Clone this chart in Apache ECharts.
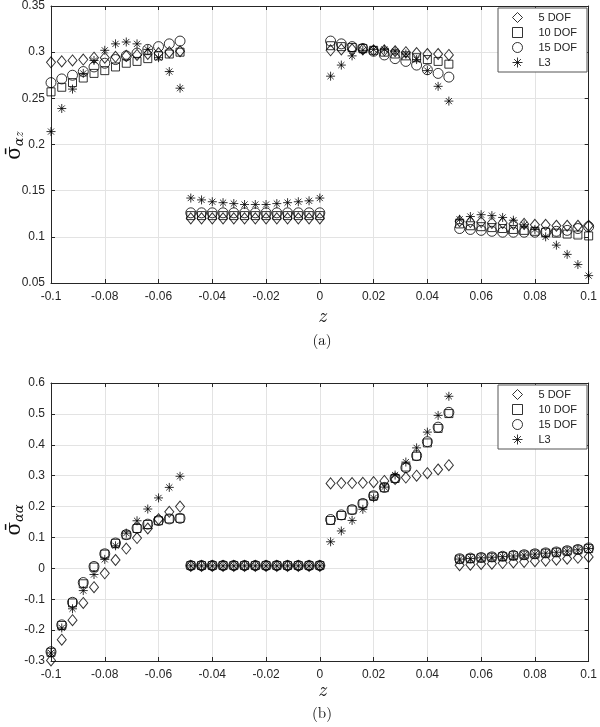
<!DOCTYPE html>
<html>
<head>
<meta charset="utf-8">
<script src="https://cdn.jsdelivr.net/npm/echarts@6/dist/echarts.min.js"></script>
<style>html,body{margin:0;padding:0;background:#fff;}#c{width:600px;height:727px;}</style>
</head>
<body>
<div id="c"></div>
<script>
// z positions
const zPos = [
  -0.100,-0.096,-0.092,-0.088,-0.084,-0.080,-0.076,-0.072,-0.068,-0.064,-0.060,-0.056,-0.052,
  -0.048,-0.044,-0.040,-0.036,-0.032,-0.028,-0.024,-0.020,-0.016,-0.012,-0.008,-0.004,0.000,
  0.004,0.008,0.012,0.016,0.020,0.024,0.028,0.032,0.036,0.040,0.044,0.048,
  0.052,0.056,0.060,0.064,0.068,0.072,0.076,0.080,0.084,0.088,0.092,0.096,0.100
];
const seriesNames = ['5 DOF','10 DOF','15 DOF','L3'];

// (a) sigma_alpha_z
const a5 = [0.289,0.290,0.291,0.292,0.294,0.294,0.295,0.296,0.297,0.298,0.299,0.300,0.301,
  0.120,0.120,0.120,0.120,0.120,0.120,0.120,0.120,0.120,0.120,0.120,0.120,0.120,
  0.302,0.303,0.303,0.303,0.302,0.302,0.301,0.300,0.299,0.298,0.298,0.297,
  0.117,0.116,0.116,0.115,0.115,0.114,0.114,0.113,0.113,0.112,0.112,0.112,0.112];
const a10 = [0.257,0.262,0.267,0.272,0.277,0.280,0.284,0.288,0.290,0.293,0.296,0.298,0.300,
  0.123,0.123,0.123,0.123,0.123,0.123,0.123,0.123,0.123,0.123,0.123,0.123,0.123,
  0.307,0.306,0.305,0.304,0.302,0.300,0.298,0.296,0.294,0.292,0.290,0.287,
  0.114,0.112,0.111,0.110,0.109,0.108,0.107,0.106,0.105,0.104,0.103,0.102,0.101];
const a15 = [0.267,0.271,0.275,0.279,0.284,0.288,0.292,0.296,0.299,0.303,0.306,0.309,0.312,
  0.126,0.126,0.126,0.126,0.126,0.126,0.126,0.126,0.126,0.126,0.126,0.126,0.126,
  0.312,0.309,0.306,0.304,0.301,0.297,0.293,0.290,0.286,0.281,0.277,0.273,
  0.109,0.108,0.107,0.106,0.105,0.105,0.105,0.105,0.105,0.106,0.107,0.109,0.111];
const aL3 = [0.214,0.239,0.260,0.277,0.291,0.302,0.309,0.311,0.309,0.303,0.294,0.279,0.261,
  0.142,0.140,0.138,0.137,0.136,0.135,0.135,0.135,0.136,0.137,0.138,0.139,0.142,
  0.274,0.286,0.296,0.302,0.303,0.303,0.301,0.298,0.292,0.280,0.263,0.247,
  0.119,0.122,0.124,0.123,0.121,0.118,0.113,0.108,0.100,0.091,0.081,0.070,0.058];

// (b) sigma_alpha_alpha
const b5 = [-0.298,-0.231,-0.168,-0.112,-0.061,-0.016,0.027,0.064,0.098,0.129,0.159,0.183,0.200,
  0.008,0.008,0.008,0.008,0.008,0.008,0.008,0.008,0.008,0.008,0.008,0.008,0.008,
  0.275,0.276,0.276,0.277,0.279,0.283,0.289,0.294,0.300,0.308,0.320,0.334,
  0.010,0.012,0.014,0.015,0.017,0.019,0.021,0.023,0.025,0.028,0.031,0.034,0.037];
const b10 = [-0.272,-0.185,-0.112,-0.050,0.004,0.046,0.081,0.108,0.129,0.142,0.154,0.160,0.162,
  0.009,0.009,0.009,0.009,0.009,0.009,0.009,0.009,0.009,0.009,0.009,0.009,0.009,
  0.155,0.171,0.189,0.209,0.234,0.261,0.291,0.328,0.363,0.406,0.453,0.501,
  0.030,0.032,0.034,0.036,0.038,0.041,0.043,0.046,0.049,0.052,0.056,0.060,0.064];
const b15 = [-0.270,-0.183,-0.110,-0.046,0.006,0.047,0.082,0.109,0.130,0.143,0.155,0.160,0.162,
  0.009,0.009,0.009,0.009,0.009,0.009,0.009,0.009,0.009,0.009,0.009,0.009,0.009,
  0.158,0.173,0.190,0.210,0.235,0.262,0.292,0.326,0.365,0.410,0.457,0.505,
  0.031,0.033,0.035,0.037,0.039,0.042,0.044,0.047,0.050,0.053,0.057,0.061,0.066];
const bL3 = [-0.274,-0.193,-0.131,-0.072,-0.020,0.029,0.073,0.114,0.154,0.192,0.228,0.262,0.298,
  0.008,0.008,0.008,0.008,0.008,0.008,0.008,0.008,0.008,0.008,0.008,0.008,0.008,
  0.086,0.121,0.155,0.191,0.228,0.263,0.302,0.344,0.390,0.441,0.495,0.557,
  0.030,0.032,0.034,0.036,0.038,0.040,0.043,0.046,0.049,0.052,0.056,0.060,0.064];

// axis ticks
const xTicks = {min:-0.1, max:0.1, interval:0.02};
const yTicksA = {min:0.05, max:0.35, interval:0.05};
const yTicksB = {min:-0.3, max:0.6, interval:0.1};

const AX = '#262626';
const GRIDC = '#e3e3e3';
const SANS = "'Liberation Sans', Arial, sans-serif";
const STAR = 'path://M5,0L5,10M0,5L10,5M1.6,1.6L8.4,8.4M1.6,8.4L8.4,1.6';
const symbols = [
  {symbol:'diamond', size:[9,11]},
  {symbol:'rect', size:8},
  {symbol:'circle', size:10},
  {symbol:STAR, size:9}
];

function mainX(gi){
  return {type:'value', gridIndex:gi, min:xTicks.min, max:xTicks.max, interval:xTicks.interval,
    axisLine:{show:true, onZero:false, lineStyle:{color:AX, width:1}},
    axisTick:{show:true, inside:true, length:4, lineStyle:{color:AX}},
    splitLine:{show:true, lineStyle:{color:GRIDC, width:1}},
    axisLabel:{color:AX, fontSize:12, fontFamily:SANS, margin:8, showMinLabel:true, showMaxLabel:true}};
}
function topX(gi){
  return {type:'value', gridIndex:gi, position:'top', min:xTicks.min, max:xTicks.max, interval:xTicks.interval,
    axisLine:{show:true, onZero:false, lineStyle:{color:AX, width:1}},
    axisTick:{show:true, inside:true, length:4, lineStyle:{color:AX}},
    splitLine:{show:false}, axisLabel:{show:false}};
}
function mainY(gi, t){
  return {type:'value', gridIndex:gi, min:t.min, max:t.max, interval:t.interval,
    axisLine:{show:true, onZero:false, lineStyle:{color:AX, width:1}},
    axisTick:{show:true, inside:true, length:4, lineStyle:{color:AX}},
    splitLine:{show:true, lineStyle:{color:GRIDC, width:1}},
    axisLabel:{color:AX, fontSize:12, fontFamily:SANS, margin:6, showMinLabel:true, showMaxLabel:true}};
}
function rightY(gi, t){
  return {type:'value', gridIndex:gi, position:'right', min:t.min, max:t.max, interval:t.interval,
    axisLine:{show:true, onZero:false, lineStyle:{color:AX, width:1}},
    axisTick:{show:true, inside:true, length:4, lineStyle:{color:AX}},
    splitLine:{show:false}, axisLabel:{show:false}};
}

const dataA = [a5, a10, a15, aL3];
const dataB = [b5, b10, b15, bL3];
const series = [];
function addSeries(arrs, xi, yi){
  arrs.forEach((vals, k) => {
    series.push({
      name: seriesNames[k], type:'scatter', xAxisIndex:xi, yAxisIndex:yi,
      symbol: symbols[k].symbol, symbolSize: symbols[k].size,
      itemStyle:{color:'rgba(0,0,0,0)', borderColor:'#000', borderWidth:1},
      emphasis:{disabled:true},
      data: vals.map((v,i)=>[zPos[i], v]),
      z: 3
    });
  });
}
addSeries(dataA, 0, 0);
addSeries(dataB, 2, 2);

function legendAt(top){
  return {show:true, orient:'vertical', left:498, top:top,
    data: seriesNames, itemWidth:10, itemHeight:10, itemGap:4,
    padding:[4,10,4,14], backgroundColor:'#fff', borderColor:'#555', borderWidth:1,
    itemStyle:{color:'rgba(0,0,0,0)', borderColor:'#000', borderWidth:1},
    formatter: name => '{t|' + name + '}',
    textStyle:{color:'#222', fontSize:11, fontFamily:SANS,
      rich:{t:{fontSize:11, fontFamily:SANS, color:'#222', padding:[0,0,0,11]}}},
    selectedMode:false};
}

const serif = '"Latin Modern Roman", "DejaVu Serif", "Liberation Serif", serif';
const option = {
  backgroundColor:'#fff',
  animation:false,
  grid:[
    {left:51, right:6, top:4, height:279},
    {left:51, right:6, top:383, height:278}
  ],
  xAxis:[mainX(0), topX(0), mainX(1), topX(1)],
  yAxis:[mainY(0, yTicksA), rightY(0, yTicksA), mainY(1, yTicksB), rightY(1, yTicksB)],
  legend:[legendAt(8), legendAt(385)],
  series: series,
  graphic:[
    {type:'text', x:322, y:316, style:{text:'z', font:'italic 20px '+serif, fill:'#111', align:'center', verticalAlign:'middle'}},
    {type:'text', x:322, y:340, style:{text:'(a)', font:'15px '+serif, fill:'#111', align:'center', verticalAlign:'middle'}},
    {type:'text', x:322, y:690, style:{text:'z', font:'italic 20px '+serif, fill:'#111', align:'center', verticalAlign:'middle'}},
    {type:'text', x:322, y:713, style:{text:'(b)', font:'15px '+serif, fill:'#111', align:'center', verticalAlign:'middle'}},
    {type:'text', x:14, y:146, rotation:Math.PI/2, style:{
      text:'{s|σ\u0304}{sub|αz}', align:'center', verticalAlign:'middle',
      rich:{ s:{font:'20px '+serif, fill:'#111', lineHeight:24, verticalAlign:'middle'},
             sub:{font:'italic 13px '+serif, fill:'#111', lineHeight:24, verticalAlign:'bottom', padding:[8,0,0,0]} } }},
    {type:'text', x:14, y:520, rotation:Math.PI/2, style:{
      text:'{s|σ\u0304}{sub|αα}', align:'center', verticalAlign:'middle',
      rich:{ s:{font:'20px '+serif, fill:'#111', lineHeight:24, verticalAlign:'middle'},
             sub:{font:'italic 13px '+serif, fill:'#111', lineHeight:24, verticalAlign:'bottom', padding:[8,0,0,0]} } }}
  ]
};
const chart = echarts.init(document.getElementById('c'), null, {renderer:'canvas'});
chart.setOption(option);
</script>
</body>
</html>
